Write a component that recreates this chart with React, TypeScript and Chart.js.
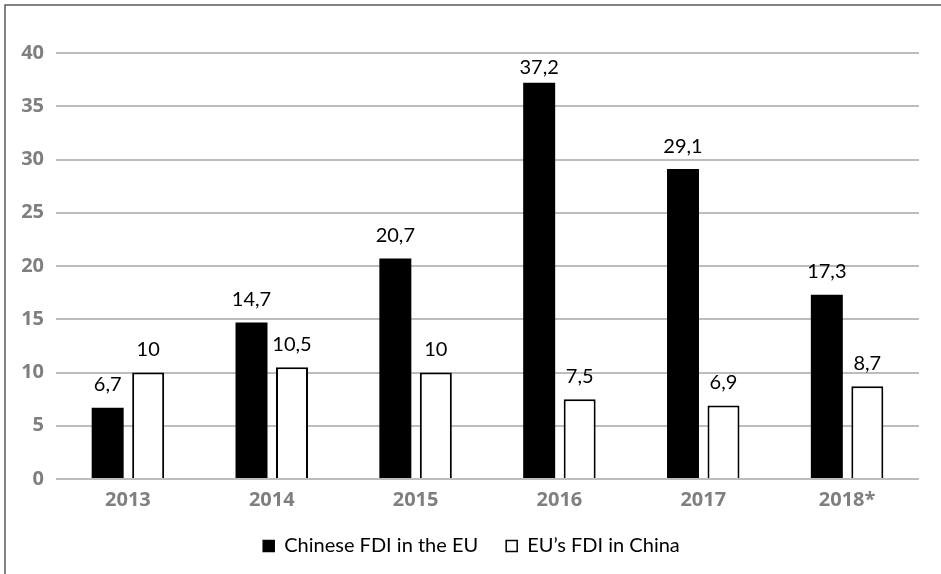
import React, { useEffect, useRef } from "react";
import { Chart, registerables } from "chart.js";

Chart.register(...registerables);

const categories = ["2013", "2014", "2015", "2016", "2017", "2018*"];
const chineseFdiInEu = [6.7, 14.7, 20.7, 37.2, 29.1, 17.3];
const euFdiInChina = [10, 10.5, 10, 7.5, 6.9, 8.7];
const seriesNames = ["Chinese FDI in the EU", "EU\u2019s FDI in China"];
const yTicks = [0, 5, 10, 15, 20, 25, 30, 35, 40];

const FONT = "Lato, 'Open Sans', sans-serif";
const TICK_FONT = "'Open Sans', 'DejaVu Sans', sans-serif";

const frameAndLabels = {
  id: "frameAndLabels",
  afterLayout(chart: any) {
    if (chart.legend) {
      chart.legend.left += 12;
      chart.legend.right += 12;
    }
  },
  beforeDraw(chart: any) {
    const { ctx, width, height } = chart;
    ctx.save();
    ctx.fillStyle = "#ffffff";
    ctx.fillRect(0, 0, width, height);
    ctx.strokeStyle = "#5a5a5a";
    ctx.lineWidth = 1.5;
    ctx.beginPath();
    ctx.moveTo(5, height + 5);
    ctx.lineTo(5, 5);
    ctx.lineTo(width + 5, 5);
    ctx.stroke();
    ctx.restore();
  },
  afterDatasetsDraw(chart: any) {
    const { ctx, chartArea } = chart;
    ctx.save();
    ctx.font = `20px ${FONT}`;
    ctx.fillStyle = "#000000";
    ctx.textAlign = "center";
    ctx.textBaseline = "bottom";
    chart.data.datasets.forEach((ds: any, di: number) => {
      const meta = chart.getDatasetMeta(di);
      meta.data.forEach((bar: any, i: number) => {
        const v = ds.data[i];
        const txt = String(v).replace(".", ",");
        const y = Math.max(bar.y - 13, chartArea.top + 25);
        ctx.fillText(txt, bar.x, y);
      });
    });
    ctx.restore();
  },
};

export default function App() {
  const ref = useRef<HTMLCanvasElement | null>(null);
  useEffect(() => {
    document.body.style.margin = "0";
    document.body.style.overflow = "hidden";
    const chart = new Chart(ref.current as HTMLCanvasElement, {
      type: "bar",
      data: {
        labels: categories,
        datasets: [
          {
            label: seriesNames[0],
            data: chineseFdiInEu,
            backgroundColor: "#000000",
            borderColor: "#000000",
            borderWidth: 0,
            categoryPercentage: 0.563,
            barPercentage: 0.79,
          },
          {
            label: seriesNames[1],
            data: euFdiInChina,
            backgroundColor: "#ffffff",
            borderColor: "#000000",
            borderWidth: 2,
            categoryPercentage: 0.563,
            barPercentage: 0.79,
          },
        ],
      },
      options: {
        animation: false,
        responsive: false,
        maintainAspectRatio: false,
        layout: { padding: { top: 53, right: 22, left: 0, bottom: 8 } },
        plugins: {
          tooltip: { enabled: false },
          legend: {
            display: true,
            position: "bottom",
            labels: {
              boxWidth: 11,
              boxHeight: 11,
              padding: 28,
              color: "#000000",
              font: { family: FONT, size: 20 },
              generateLabels: (chart: any) =>
                chart.data.datasets.map((ds: any, i: number) => ({
                  text: ds.label,
                  fillStyle: ds.backgroundColor,
                  strokeStyle: "#000000",
                  lineWidth: 1.5,
                  hidden: false,
                  datasetIndex: i,
                  fontColor: "#000000",
                })),
            },
          },
        },
        scales: {
          x: {
            grid: { display: false, drawTicks: false },
            border: { display: false },
            ticks: {
              color: "#7f7f7f",
              font: { family: TICK_FONT, size: 20, weight: "bold" },
              padding: 9,
            },
            afterFit: (s: any) => {
              s.height = 29;
            },
          },
          y: {
            min: 0,
            max: 40,
            afterBuildTicks: (s: any) => {
              s.ticks = yTicks.map((v) => ({ value: v }));
            },
            grid: { color: "#bdbdbd", lineWidth: 2, drawTicks: false },
            border: { display: false },
            ticks: {
              color: "#7f7f7f",
              font: { family: TICK_FONT, size: 20, weight: "bold" },
              padding: 12,
            },
            afterFit: (s: any) => {
              s.width = 56;
            },
          },
        },
      },
      plugins: [frameAndLabels],
    } as any);
    return () => chart.destroy();
  }, []);
  return (
    <div style={{ position: "absolute", left: 0, top: 0, width: 941, height: 574 }}>
      <canvas ref={ref} width={941} height={574} />
    </div>
  );
}
